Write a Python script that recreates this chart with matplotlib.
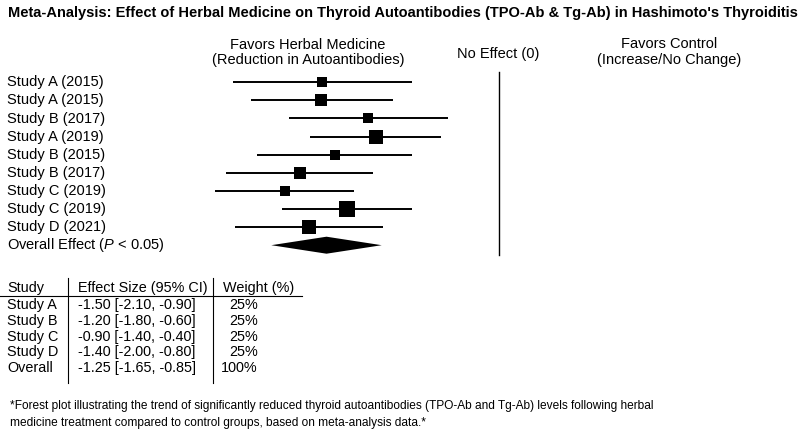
import matplotlib
matplotlib.use("Agg")
import matplotlib.pyplot as plt
from matplotlib.lines import Line2D
import matplotlib.transforms as mtransforms
from matplotlib import font_manager
import numpy as np

plt.rcParams['font.family'] = ['Liberation Sans', 'DejaVu Sans']
plt.rcParams['mathtext.fontset'] = 'custom'
plt.rcParams['mathtext.rm'] = 'Liberation Sans'
plt.rcParams['mathtext.it'] = 'Liberation Sans:italic'

# ---------------- data ----------------
study_labels = ["Study A (2015)", "Study A (2015)", "Study B (2017)", "Study A (2019)",
                "Study B (2015)", "Study B (2017)", "Study C (2019)", "Study C (2019)",
                "Study D (2021)"]
study_effect = [-1.28, -1.29, -0.95, -0.89, -1.19, -1.44, -1.55, -1.10, -1.38]
study_lo = [-1.93, -1.80, -1.52, -1.37, -1.75, -1.98, -2.06, -1.57, -1.91]
study_hi = [-0.63, -0.77, -0.37, -0.42, -0.63, -0.91, -1.05, -0.63, -0.84]
study_weight = [6.7, 12.5, 7.8, 15.2, 8.9, 9.9, 7.8, 17.5, 13.8]

overall_label = r"Overall Effect ($P$ < 0.05)"
overall_effect = -1.25
overall_lo = -1.65
overall_hi = -0.85

table_studies = ["Study A", "Study B", "Study C", "Study D", "Overall"]
table_effect = [-1.50, -1.20, -0.90, -1.40, -1.25]
table_lo = [-2.10, -1.80, -1.40, -2.00, -1.65]
table_hi = [-0.90, -0.60, -0.40, -0.80, -0.85]
table_weight = [25, 25, 25, 25, 100]
table_headers = ["Study", "Effect Size (95% CI)", "Weight (%)"]

title = "Meta-Analysis: Effect of Herbal Medicine on Thyroid Autoantibodies (TPO-Ab & Tg-Ab) in Hashimoto's Thyroiditis"
footnote_lines = ["*Forest plot illustrating the trend of significantly reduced thyroid autoantibodies (TPO-Ab and Tg-Ab) levels following herbal",
                  "medicine treatment compared to control groups, based on meta-analysis data.*"]

# ---------------- figure ----------------
W, H = 800, 436
fig = plt.figure(figsize=(W / 100, H / 100), dpi=100)
fig.patch.set_facecolor("white")

def fx(px):
    return px / W

def fy(py):
    return 1 - py / H

# forest axes: zero at px 499, 138 px per unit; rows at 82.3 + 18.1*i
ax_l, ax_r, ax_t, ax_b = 200, 520, 70, 258
ax = fig.add_axes([fx(ax_l), fy(ax_b), fx(ax_r - ax_l), (ax_b - ax_t) / H])
x0, ppu = 499.0, 138.0
ax.set_xlim((ax_l - x0) / ppu, (ax_r - x0) / ppu)
y0, pitch = 82.3, 18.1
ax.set_ylim((ax_b - y0) / pitch, (ax_t - y0) / pitch)
ax.axis("off")

n = len(study_labels)
rows = np.arange(n)
sizes_px = 3.586 * np.sqrt(np.array(study_weight))
for i in range(n):
    ax.plot([study_lo[i], study_hi[i]], [rows[i], rows[i]], color="black", lw=1.4,
            solid_capstyle="butt", zorder=2)
    ax.plot(study_effect[i], rows[i], marker="s", color="black",
            markersize=sizes_px[i] * 0.72, markeredgewidth=0, zorder=3)

# overall diamond
yo = n
hh = 8.5 / pitch
ax.fill([overall_lo, overall_effect, overall_hi, overall_effect],
        [yo, yo - hh, yo, yo + hh], color="black", lw=0, zorder=3)

# no effect line
ax.plot([0, 0], [(71.7 - y0) / pitch, (255 - y0) / pitch], color="black", lw=1.0)

# row labels
trans = mtransforms.blended_transform_factory(fig.transFigure, ax.transData)
for i, lab in enumerate(study_labels + [overall_label]):
    ax.text(fx(7), i, lab, transform=trans, fontsize=10.5, ha="left", va="center")

# headers
hdr_fs = 10.5
fig.text(fx(308), fy(45), "Favors Herbal Medicine", fontsize=hdr_fs, ha="center", va="center")
fig.text(fx(308), fy(60), "(Reduction in Autoantibodies)", fontsize=hdr_fs, ha="center", va="center")
fig.text(fx(498), fy(54), "No Effect (0)", fontsize=hdr_fs, ha="center", va="center")
fig.text(fx(669), fy(44), "Favors Control", fontsize=hdr_fs, ha="center", va="center")
fig.text(fx(669), fy(60), "(Increase/No Change)", fontsize=hdr_fs, ha="center", va="center")

# title
fig.text(fx(8), fy(13), title, fontsize=10.5, fontweight="bold", ha="left", va="center")

# table
tfs = 10.4
hy = 287.7
fig.text(fx(7), fy(hy), table_headers[0], fontsize=tfs, ha="left", va="center")
fig.text(fx(77.7), fy(hy), table_headers[1], fontsize=tfs, ha="left", va="center")
fig.text(fx(222.7), fy(hy), table_headers[2], fontsize=tfs, ha="left", va="center")
row_y = [305, 321, 336.7, 352.3, 368.3]
for j, s in enumerate(table_studies):
    yy = fy(row_y[j])
    fig.text(fx(7), yy, s, fontsize=tfs, ha="left", va="center")
    fig.text(fx(77.7), yy, f"{table_effect[j]:.2f} [{table_lo[j]:.2f}, {table_hi[j]:.2f}]",
             fontsize=tfs, ha="left", va="center")
    fig.text(fx(258), yy, f"{table_weight[j]}%", fontsize=tfs, ha="right", va="center")

for xv in (67.7, 212.7):
    fig.add_artist(Line2D([fx(xv), fx(xv)], [fy(278), fy(383)], color="black", lw=0.8,
                          transform=fig.transFigure))
fig.add_artist(Line2D([fx(0), fx(302)], [fy(295.7), fy(295.7)], color="black", lw=0.8,
                      transform=fig.transFigure))

# footnote (narrow face if available)
names = {f.name for f in font_manager.fontManager.ttflist}
if "Liberation Sans Narrow" in names:
    fn_family, fn_size = ["Liberation Sans Narrow", "Liberation Sans"], 10.4
else:
    fn_family, fn_size = ["Liberation Sans"], 8.6
fig.text(fx(10), fy(406), footnote_lines[0], fontsize=fn_size, family=fn_family,
         ha="left", va="center")
fig.text(fx(10), fy(423), footnote_lines[1], fontsize=fn_size, family=fn_family,
         ha="left", va="center")

fig.savefig("out.png", dpi=100, facecolor="white")
